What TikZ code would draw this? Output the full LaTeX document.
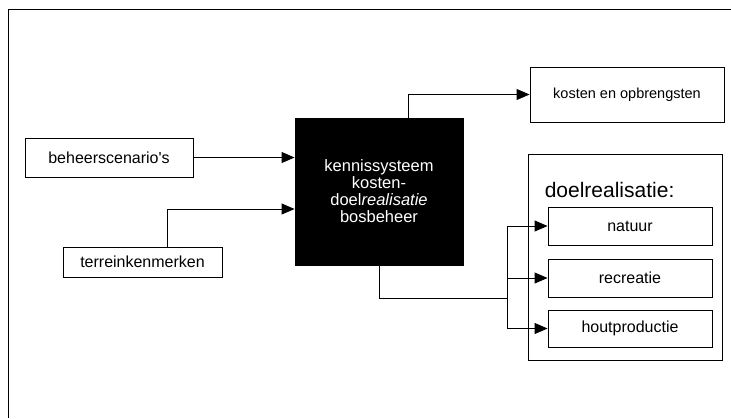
\documentclass[tikz,border=0pt]{standalone}
\usepackage{fontspec}
\setmainfont{Liberation Sans}
\usetikzlibrary{arrows.meta}

\begin{document}
\begin{tikzpicture}[x=1pt, y=-1pt, line width=0.9pt,
    box/.style={rectangle, draw, inner sep=0pt, font=\fontsize{16}{19}\selectfont},
    arr/.style={-{Triangle[length=13pt,width=11pt]}}]

        \useasboundingbox (0,0) rectangle (731,418);

        % frame of the page
        \draw (8,418) -- (8,9) -- (731,9);

        % Define nodes (boxes)

        \node (scen)  at (109, 157.5) [box, minimum width=168pt, minimum height=39pt] {beheerscenario\textquotesingle s};

        \node (terr)  at (142.5, 262) [box, minimum width=159pt, minimum height=30pt] {terreinkenmerken};

        \node (kbs)   at (379, 191.5) [rectangle, draw, fill=black, text=white, align=center, minimum width=168pt, minimum height=147pt, font=\fontsize{16.5}{17}\selectfont] {kennissysteem\\kosten-\\doel\textit{realisatie}\\bosbeheer};

        \node (kost)  at (627, 94.5) [box, minimum width=194pt, minimum height=55pt, font=\fontsize{14.5}{17}\selectfont] {kosten en opbrengsten};

        \node (doel)  at (625, 257) [box, minimum width=194pt, minimum height=206pt] {};

        \node (doeltxt) at (541, 190) [anchor=west, font=\fontsize{21}{24}\selectfont] {doelrealisatie:};

        \node (nat)   at (630, 226) [box, minimum width=164pt, minimum height=38pt] {natuur};

        \node (rec)   at (630, 278) [box, minimum width=164pt, minimum height=38pt] {recreatie};

        \node (hout)  at (630, 328.5) [box, minimum width=164pt, minimum height=37pt] {houtproductie};

        \coordinate (split) at (507, 298);

        % Draw arrows between nodes

        \draw[arr] (scen) -- (kbs.west |- scen);

        \draw[arr] (terr.north -| 167, 0) |- (kbs.west |- 0, 209);

        \draw[arr] ([xshift=29pt]kbs.north) |- (kost.west);

        \draw (kbs.south) |- (split);

        \draw[arr] (split) |- (nat.west);

        \draw[arr] (split) -- (rec.west -| split) -- (rec.west);

        \draw[arr] (split) |- (hout.west);

    \end{tikzpicture}
\end{document}
